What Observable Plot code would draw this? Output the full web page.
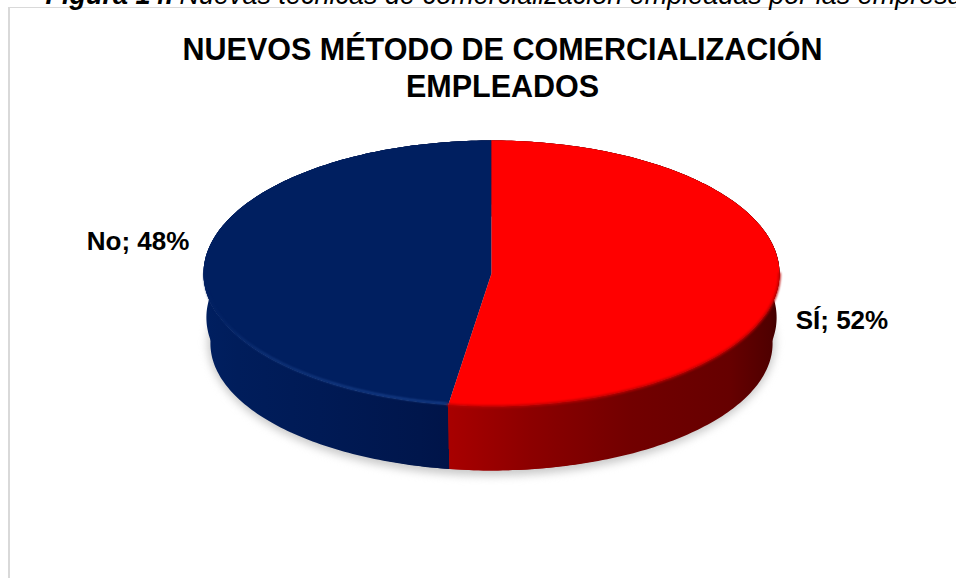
<!DOCTYPE html>
<html lang="es">
<head>
<meta charset="utf-8">
<script src="https://cdn.jsdelivr.net/npm/d3@7"></script>
<script src="https://cdn.jsdelivr.net/npm/@observablehq/plot@0.6"></script>
<style>
html,body{margin:0;padding:0;background:#fff;overflow:hidden;width:956px;height:578px}
#wrap{position:relative;width:956px;height:578px;overflow:hidden;font-family:"Liberation Sans",Arial,sans-serif}
#edge{position:absolute;left:8px;top:7px;right:-5px;bottom:-5px;border-left:2px solid #d9d9d9;border-top:1.5px solid #d9d9d9}
#chart{position:absolute;left:0;top:0}
</style>
</head>
<body>
<div id="wrap"><div id="edge"></div><div id="chart"></div></div>
<script>
const figureLabel = ["Figura 14."];
const figureCaption = ["Nuevas técnicas de comercialización empleadas por las empresas"];
const chartTitle = ["NUEVOS MÉTODO DE COMERCIALIZACIÓN\nEMPLEADOS"];
const categories = ["SÍ", "No"];
const shares = [52.4, 47.6];
const faceColors = ["#ff0000", "#001f60"];

const rad = Math.PI / 180;

const slices = d3.pie().sort(null)(shares).map((a, i) => ({
  name: categories[i], value: shares[i], start: a.startAngle, end: a.endAngle, color: faceColors[i]
}));

function arc(s, e, rx = 1, ry = 1, cy = 0) {
  const n = Math.max(2, Math.ceil((e - s) / rad));
  return d3.range(n + 1).map(k => {
    const t = s + (e - s) * k / n;
    return {x: rx * Math.sin(t), y: cy + ry * Math.cos(t)};
  });
}
const topFace = s => [{x: 0, y: 0}, ...arc(s.start, s.end)];
// Side wall of a slice: from the top rim down to a lower ellipse (rx, ry, cy in top-radius units)
const wall = (s, rx, ry, cy) => [...arc(s.start, s.end), ...arc(s.start, s.end, rx, ry, cy).reverse()];
const wallLower = [[0.962, 1, -0.481], [0.976, 0.955, -0.526], [0.99, 1, -0.331]];
const shadow = arc(0, 2 * Math.PI, 0.985, 1.0, -0.52);

const defs = () => {
  const d = d3.create("svg:defs");
  const grad = (id, stops) => {
    const g = d.append("linearGradient").attr("id", id);
    stops.forEach(([o, c]) => g.append("stop").attr("offset", o).attr("stop-color", c));
  };
  grad("wallRed", [[0, "#a80000"], [0.25, "#8c0000"], [0.55, "#720000"], [0.85, "#660000"], [0.97, "#500000"], [1, "#3c0000"]]);
  grad("wallBlue", [[0, "#001f60"], [0.12, "#001d5b"], [0.4, "#001a55"], [0.75, "#00164c"], [1, "#001144"]]);
  grad("rimBlue", [[0, "#001f60"], [0.25, "#153a80"], [0.8, "#1f4a98"], [1, "#1f4a98"]]);
  return d.node();
};

const redSlice = slices[0], blueSlice = slices[1];
const frontBlue = arc(redSlice.end, 1.5 * Math.PI, 0.996, 0.99, 0);
const frontRed = arc(0.5 * Math.PI, redSlice.end);

const plot = Plot.plot({
  width: 956, height: 578,
  margin: 0,
  style: {background: "transparent", fontFamily: '"Liberation Sans",Arial,sans-serif'},
  x: {domain: [-1, 1], range: [203, 779], axis: null},
  y: {domain: [-1, 1], range: [406, 140], axis: null},
  marks: [
    defs,
    Plot.line(shadow, {x: "x", y: "y", fill: "#c9c9c9", stroke: "none", imageFilter: "blur(4px)"}),
    ...wallLower.map(([rx, ry, cy]) => Plot.line(wall(blueSlice, rx, ry, cy), {x: "x", y: "y", fill: "url(#wallBlue)", stroke: "none"})),
    ...wallLower.map(([rx, ry, cy]) => Plot.line(wall(redSlice, rx, ry, cy), {x: "x", y: "y", fill: "url(#wallRed)", stroke: "none"})),
    Plot.line(topFace(blueSlice), {x: "x", y: "y", fill: blueSlice.color, stroke: "none"}),
    Plot.line(topFace(redSlice), {x: "x", y: "y", fill: redSlice.color, stroke: "none"}),
    Plot.line(frontBlue, {x: "x", y: "y", stroke: "url(#rimBlue)", strokeWidth: 1.6, imageFilter: "blur(0.8px)"}),
    Plot.line(frontRed, {x: "x", y: "y", stroke: "#bb0000", strokeWidth: 2.4, imageFilter: "blur(1.2px)"}),
    Plot.text([blueSlice], {
      x: s => Math.sin((s.start + s.end) / 2), y: s => Math.cos((s.start + s.end) / 2),
      text: s => `${s.name}; ${Math.round(s.value)}%`,
      textAnchor: "end", dx: -15, dy: -22, fontSize: 26, fontWeight: "bold", fill: "#000"
    }),
    Plot.text([redSlice], {
      x: s => Math.sin((s.start + s.end) / 2), y: s => Math.cos((s.start + s.end) / 2),
      text: s => `${s.name}; ${Math.round(s.value)}%`,
      textAnchor: "start", dx: 17, dy: 37, fontSize: 26, fontWeight: "bold", fill: "#000"
    }),
    Plot.text(chartTitle, {
      frameAnchor: "top", dx: 24, dy: 33.7, lineAnchor: "top", lineHeight: 1.213,
      fontSize: 30.5, fontWeight: "bold", fill: "#000"
    }),
    Plot.text(figureLabel, {
      frameAnchor: "top-left", textAnchor: "start", lineAnchor: "bottom", dx: 45, dy: 3,
      fontSize: 27, fontWeight: "bold", fontStyle: "italic", fill: "#000"
    }),
    Plot.text(figureCaption, {
      frameAnchor: "top-left", textAnchor: "start", lineAnchor: "bottom", dx: 179, dy: 3,
      fontSize: 27, fontStyle: "italic", fill: "#000"
    })
  ]
});
document.getElementById("chart").appendChild(plot);
</script>
</body>
</html>
